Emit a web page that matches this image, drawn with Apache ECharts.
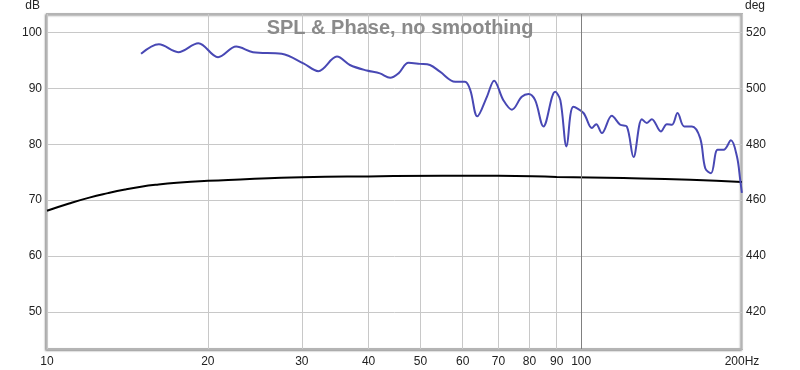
<!DOCTYPE html>
<html><head><meta charset="utf-8">
<script src="https://cdn.jsdelivr.net/npm/echarts@6/dist/echarts.min.js"></script>
<style>html,body{margin:0;padding:0;background:#fff}#c{width:800px;height:370px}</style>
</head><body><div id="c"></div>
<script>
const xTicks = [10,20,30,40,50,60,70,80,90,100,200];
const dbTicks = [50,60,70,80,90,100];
const degTicks = [420,440,460,480,500,520];
const splFreq = [15.0,16.2,17.6,19.2,20.9,22.6,24.3,27.5,30.2,32.2,34.9,36.9,39.7,42.0,43.9,45.5,47.5,49.9,52.1,54.4,58.1,60.6,62.0,63.9,66.6,68.7,71.5,74.2,77.4,79.7,82.0,85.0,89.4,91.4,93.9,96.7,101,104.7,106.7,109.3,114.1,118.3,121.7,125.3,129.9,132.7,135.6,141.0,144.7,147.9,151.5,155.9,161.2,167.0,170.7,175.0,180.0,184.8,190.7,195.7,198.5,199.9];
const splDb = [96.2,97.9,96.5,98.1,95.6,97.5,96.5,96.2,94.5,93.1,95.7,94.2,93.2,92.7,91.9,92.7,94.6,94.4,94.2,93.0,91.2,91.2,89.7,85.0,88.5,91.4,87.9,86.2,88.5,89.0,87.9,83.2,89.4,87.9,79.6,86.7,85.6,82.9,83.6,82.0,85.1,83.5,83.2,77.7,84.5,83.8,84.5,82.3,83.6,83.5,85.6,83.2,83.2,81.1,75.7,74.8,79.0,79.0,80.7,77.8,73.6,71.3];
const phaseFreq = [10,11,12,13,14,15,16,17.5,20,23,26,30,40,55,70,90,120,160,200];
const phaseDeg = [456.2,458.8,460.9,462.5,463.8,464.8,465.5,466.2,466.9,467.4,467.8,468.2,468.5,468.7,468.7,468.3,467.9,467.3,466.5];

const pair = (a,b) => a.map((v,i)=>[v,b[i]]);
const chart = echarts.init(document.getElementById('c'), null, {renderer:'canvas'});
chart.setOption({
  animation:false,
  backgroundColor:'#fff',
  title:{text:'SPL & Phase, no smoothing',left:'center',top:13,
    textStyle:{fontFamily:'Liberation Sans, Arial, sans-serif',fontSize:20,fontWeight:'bold',color:'#8a8a8a'}},
  grid:{left:47,right:58,top:14,bottom:21,show:true,backgroundColor:'#fff',borderColor:'#b4b4b4',borderWidth:2,
    shadowColor:'rgba(0,0,0,0.35)',shadowBlur:2,shadowOffsetX:-1,shadowOffsetY:1},
  xAxis:{type:'log',logBase:10,min:10,max:200,
    axisLine:{show:false},
    axisTick:{show:false,customValues:xTicks},
    axisLabel:{customValues:xTicks,margin:7,color:'#222',fontFamily:'Liberation Sans, Arial, sans-serif',fontSize:12,
      formatter:v=>v===200?'200Hz':String(v)},
    splitLine:{show:true,lineStyle:{color:'#c8c8c8',width:1}}},
  yAxis:[
    {type:'value',min:43.333,max:103.333,position:'left',
     name:'dB',nameLocation:'end',nameGap:2,
     nameTextStyle:{align:'right',padding:[0,7,0,0],color:'#222',fontFamily:'Liberation Sans, Arial, sans-serif',fontSize:12},
     axisLine:{show:false},axisTick:{show:false,customValues:dbTicks},
     axisLabel:{customValues:dbTicks,margin:5,color:'#222',fontFamily:'Liberation Sans, Arial, sans-serif',fontSize:12},
     splitLine:{show:true,lineStyle:{color:'#c8c8c8',width:1}}},
    {type:'value',min:406.667,max:526.667,position:'right',
     name:'deg',nameLocation:'end',nameGap:2,
     nameTextStyle:{align:'left',padding:[0,0,0,3],color:'#222',fontFamily:'Liberation Sans, Arial, sans-serif',fontSize:12},
     axisLine:{show:false},axisTick:{show:false,customValues:degTicks},
     axisLabel:{customValues:degTicks,margin:4,color:'#222',fontFamily:'Liberation Sans, Arial, sans-serif',fontSize:12},
     splitLine:{show:false}}
  ],
  series:[
    {type:'line',name:'Phase',yAxisIndex:1,data:pair(phaseFreq,phaseDeg),smooth:true,showSymbol:false,
     lineStyle:{color:'#000',width:2},
     markLine:{silent:true,symbol:'none',label:{show:false},lineStyle:{color:'#808080',width:1,type:'solid'},
       data:[{xAxis:100}]}},
    {type:'line',name:'SPL',yAxisIndex:0,data:pair(splFreq,splDb),smooth:0.35,showSymbol:false,
     lineStyle:{color:'#4848b4',width:2}}
  ]
});
</script></body></html>
